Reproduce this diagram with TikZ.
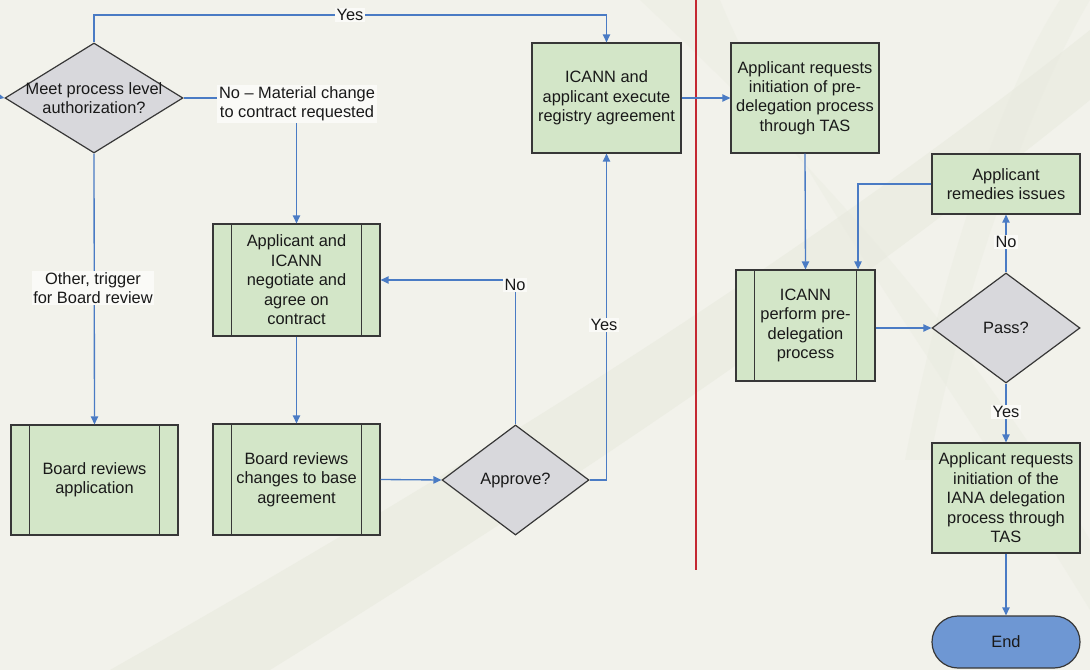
\documentclass[tikz,border=0pt]{standalone}
\usepackage{fontspec}
\setmainfont{Liberation Sans}
\usetikzlibrary{shapes.geometric,arrows.meta}
\definecolor{bg}{RGB}{242,242,235}
\definecolor{swoosh}{RGB}{232,234,222}
\definecolor{boxgreen}{RGB}{211,230,200}
\definecolor{diagray}{RGB}{216,216,220}
\definecolor{edge}{RGB}{55,55,55}
\definecolor{flow}{RGB}{74,123,196}
\definecolor{endblue}{RGB}{110,151,211}
\definecolor{divider}{RGB}{196,40,50}
\definecolor{lblbg}{RGB}{250,250,247}
\begin{document}
\begin{tikzpicture}[x=0.75pt,y=-0.75pt,
  font=\fontsize{12.3}{14.6}\selectfont,
  proc/.style={rectangle,draw=edge,line width=0.9pt,fill=boxgreen,align=center,inner sep=0pt,text=black!90},
  pproc/.style={proc,path picture={
      \draw[edge,line width=0.9pt] ([xshift=14pt]path picture bounding box.north west) -- ([xshift=14pt]path picture bounding box.south west);
      \draw[edge,line width=0.9pt] ([xshift=-14pt]path picture bounding box.north east) -- ([xshift=-14pt]path picture bounding box.south east);}},
  decision/.style={diamond,draw=edge,line width=0.9pt,fill=diagray,inner sep=0pt},
  arr/.style={draw=flow,line width=1pt,-{Triangle[length=6pt,width=5.5pt]}},
  lbl/.style={fill=lblbg,inner sep=1.2pt,align=center,text=black!90}
]
% background
\fill[bg] (0,0) rectangle (1090,670);
\fill[swoosh,opacity=0.6] (110,670) .. controls (480,460) and (800,260) .. (1090,30) -- (1090,100) .. controls (830,310) and (560,490) .. (270,670) -- cycle;
\fill[swoosh,opacity=0.35] (640,0) .. controls (800,150) and (960,320) .. (1090,540) -- (1090,610) .. controls (950,380) and (790,170) .. (720,0) -- cycle;
\fill[swoosh,opacity=0.35] (1090,0) .. controls (1030,100) and (960,300) .. (930,460) -- (905,460) .. controls (935,300) and (995,100) .. (1060,0) -- cycle;
\useasboundingbox (0,0) rectangle (1090,670);

% divider
\draw[divider,line width=0.9pt] (696,0) -- (696,570);

% nodes
\node[decision,minimum width=133.5pt,minimum height=82.5pt,
  label={[align=center,text=black!90]center:Meet process level\\authorization?}] (d1) at (94,98) {};
\node[pproc,minimum width=125.25pt,minimum height=82.5pt] (bra) at (94.5,480) {Board reviews\\application};
\node[pproc,minimum width=125.25pt,minimum height=84pt] (neg) at (296.5,280) {Applicant and\\ICANN\\negotiate and\\agree on\\contract};
\node[pproc,minimum width=125.25pt,minimum height=83.25pt] (brc) at (296.5,479.5) {Board reviews\\changes to base\\agreement};
\node[decision,minimum width=110.25pt,minimum height=82.5pt,
  label={[text=black!90]center:Approve?}] (d2) at (515.5,480) {};
\node[proc,minimum width=111.75pt,minimum height=82.5pt] (exe) at (606.5,98) {ICANN and\\applicant execute\\registry agreement};
\node[proc,minimum width=111pt,minimum height=82.5pt] (arp) at (805,98) {Applicant requests\\initiation of pre-\\delegation process\\through TAS};
\node[pproc,minimum width=104.25pt,minimum height=83.25pt] (perf) at (805.5,325.5) {ICANN\\perform pre-\\delegation\\process};
\node[proc,minimum width=111pt,minimum height=45pt] (rem) at (1006,184) {Applicant\\remedies issues};
\node[decision,minimum width=111pt,minimum height=82.5pt,
  label={[text=black!90]center:Pass?}] (d3) at (1006,328) {};
\node[proc,minimum width=111pt,minimum height=82.5pt] (fin) at (1006,498) {Applicant requests\\initiation of the\\IANA delegation\\process through\\TAS};
\node[rectangle,rounded corners=19.5pt,draw=edge,line width=0.9pt,fill=endblue,minimum width=111pt,minimum height=39pt,text=black!90] (endn) at (1006,642) {End};

% coordinates
\coordinate (in0) at (0,97);
\coordinate (ytop) at (350,15);

% connectors
\draw[arr] (in0) -- (d1.west);
\draw[arr] (d1.north) |- (ytop) -| (exe.north);
\draw[arr] (d1.east) -| (neg.north);
\draw[arr] (d1.south) -- (bra.north);
\draw[arr] (neg.south) -- (brc.north);
\draw[arr] (brc.east) -- (d2.west);
\draw[arr] (d2.north) |- (neg.east);
\draw[arr] (d2.east) -| (exe.south);
\draw[arr] (exe.east) -- (arp.west);
\draw[arr] (arp.south) -- (perf.north);
\draw[arr] (rem.west) -| ([xshift=39.4pt]perf.north);
\draw[arr] (perf.east |- d3.west) -- (d3.west);
\draw[arr] (d3.north) -- (rem.south);
\draw[arr] (d3.south) -- (fin.north);
\draw[arr] (fin.south) -- (endn.north);

% connector labels
\node[lbl] (lyes1) at (350,15) {Yes};
\node[lbl] (lno1) at (297,104) {No -- Material change\\to contract requested};
\node[lbl] (lother) at (93,288) {Other, trigger\\for Board review};
\node[lbl] (lno2) at (515,285) {No};
\node[lbl] (lyes2) at (604,325) {Yes};
\node[lbl] (lno3) at (1006,242) {No};
\node[lbl] (lyes3) at (1006,412) {Yes};
\end{tikzpicture}
\end{document}
